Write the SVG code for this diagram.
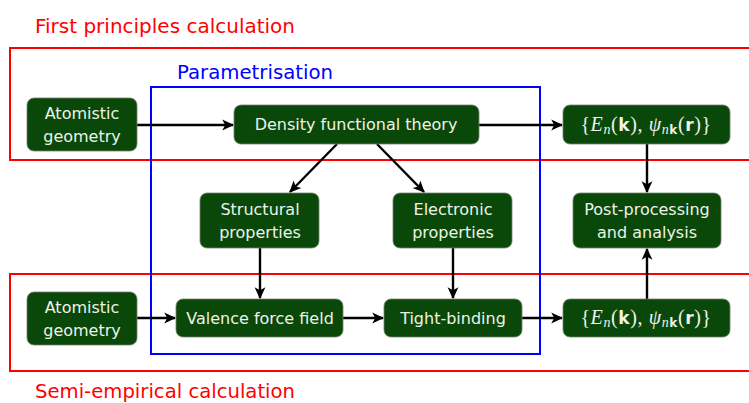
<svg xmlns="http://www.w3.org/2000/svg" width="749" height="403" viewBox="0 0 749 403">
<defs>
<marker id="ah" viewBox="0 0 10 10" refX="9" refY="5" markerWidth="5" markerHeight="5" orient="auto" markerUnits="strokeWidth">
<path d="M0,0.5 L10,5 L0,9.5 L2.5,5 Z" fill="#000"/>
</marker>
</defs>
<style>
.node{fill:#0a480a;stroke:#708070;stroke-width:0.8}
.t{font-family:"DejaVu Sans","Liberation Sans",sans-serif;font-size:16px;fill:#eef3e8;text-anchor:middle}
.mt{font-size:20px;letter-spacing:0.6px}
.m{font-family:"Liberation Serif",serif;font-style:italic}
.b{font-family:"DejaVu Sans",sans-serif;font-weight:bold;font-style:normal}
.r{font-family:"Liberation Serif",serif;font-style:normal}
.c{stroke:#000;stroke-width:2.4;fill:none;marker-end:url(#ah)}
.lab{font-family:"DejaVu Sans","Liberation Sans",sans-serif;font-size:19px}
</style>
<rect width="749" height="403" fill="#fff"/>
<g id="regions">
<rect x="10" y="48" width="760" height="112" fill="none" stroke="#ff0000" stroke-width="2"/>
<rect x="10" y="274" width="760" height="97" fill="none" stroke="#ff0000" stroke-width="2"/>
<rect x="151" y="87" width="389" height="267" fill="none" stroke="#0000ff" stroke-width="2"/>
<text class="lab" x="35" y="33" fill="#ff0000" textLength="260" lengthAdjust="spacingAndGlyphs">First principles calculation</text>
<text class="lab" x="177" y="79" fill="#0000ff" textLength="156" lengthAdjust="spacingAndGlyphs">Parametrisation</text>
<text class="lab" x="35" y="398" fill="#ff0000" textLength="260" lengthAdjust="spacingAndGlyphs">Semi-empirical calculation</text>
</g>
<g id="connectors">
<line class="c" x1="137" y1="125" x2="233" y2="125"/>
<line class="c" x1="479" y1="125" x2="562" y2="125"/>
<line class="c" x1="337" y1="144" x2="290" y2="192"/>
<line class="c" x1="377" y1="144" x2="424" y2="192"/>
<line class="c" x1="647" y1="144" x2="647" y2="192"/>
<line class="c" x1="260" y1="248" x2="260" y2="298"/>
<line class="c" x1="453" y1="248" x2="453" y2="298"/>
<line class="c" x1="647" y1="299" x2="647" y2="249"/>
<line class="c" x1="137" y1="318" x2="175" y2="318"/>
<line class="c" x1="343" y1="318" x2="383" y2="318"/>
<line class="c" x1="522" y1="318" x2="562" y2="318"/>
</g>
<g id="atom1"><rect class="node" x="27" y="98" width="110" height="53" rx="7"/><text class="t" x="82" y="119">Atomistic</text><text class="t" x="82" y="142">geometry</text></g>
<g id="dft"><rect class="node" x="234" y="105" width="245" height="39" rx="7"/><text class="t" x="356" y="130">Density functional theory</text></g>
<g id="en1"><rect class="node" x="563" y="105" width="167" height="39" rx="7"/><text class="t mt" x="646" y="131"><tspan class="r">{</tspan><tspan class="m">E</tspan><tspan class="m" font-size="14" dy="3">n</tspan><tspan class="r" dy="-3">(</tspan><tspan class="b" font-size="17">k</tspan><tspan class="r">), </tspan><tspan class="m">ψ</tspan><tspan class="m" font-size="14" dy="3">n</tspan><tspan class="b" font-size="12">k</tspan><tspan class="r" dy="-3">(</tspan><tspan class="b" font-size="17">r</tspan><tspan class="r">)}</tspan></text></g>
<g id="struct"><rect class="node" x="200" y="193" width="119" height="55" rx="7"/><text class="t" x="260" y="215">Structural</text><text class="t" x="260" y="238">properties</text></g>
<g id="elec"><rect class="node" x="393" y="193" width="119" height="55" rx="7"/><text class="t" x="453" y="215">Electronic</text><text class="t" x="453" y="238">properties</text></g>
<g id="post"><rect class="node" x="573" y="193" width="148" height="55" rx="7"/><text class="t" x="647" y="215">Post-processing</text><text class="t" x="647" y="238">and analysis</text></g>
<g id="atom2"><rect class="node" x="27" y="292" width="110" height="53" rx="7"/><text class="t" x="82" y="313">Atomistic</text><text class="t" x="82" y="336">geometry</text></g>
<g id="vff"><rect class="node" x="176" y="299" width="167" height="38" rx="7"/><text class="t" x="260" y="324">Valence force field</text></g>
<g id="tb"><rect class="node" x="384" y="299" width="138" height="38" rx="7"/><text class="t" x="453" y="324">Tight-binding</text></g>
<g id="en2"><rect class="node" x="563" y="299" width="167" height="38" rx="7"/><text class="t mt" x="646" y="324"><tspan class="r">{</tspan><tspan class="m">E</tspan><tspan class="m" font-size="14" dy="3">n</tspan><tspan class="r" dy="-3">(</tspan><tspan class="b" font-size="17">k</tspan><tspan class="r">), </tspan><tspan class="m">ψ</tspan><tspan class="m" font-size="14" dy="3">n</tspan><tspan class="b" font-size="12">k</tspan><tspan class="r" dy="-3">(</tspan><tspan class="b" font-size="17">r</tspan><tspan class="r">)}</tspan></text></g>
</svg>
